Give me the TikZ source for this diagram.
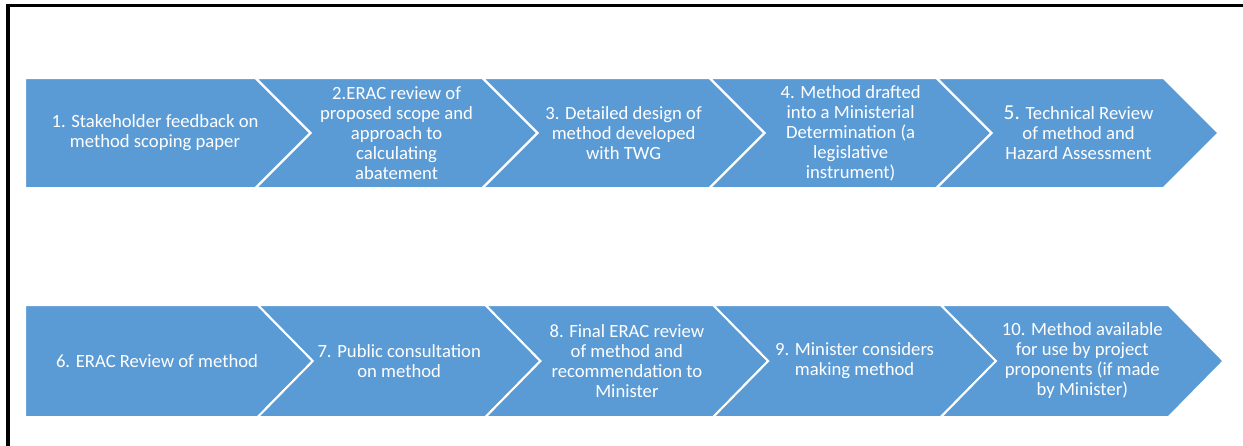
\documentclass[tikz,border=0pt]{standalone}
\usepackage{fontspec}
\setmainfont{Carlito}
\definecolor{stepblue}{HTML}{5B9BD5}
\tikzset{
  stepshape/.style={fill=stepblue,draw=white,line width=1.5pt,line join=miter},
  steptext/.style={text=white,align=center,font=\fontsize{14}{15}\selectfont}
}
\begin{document}
\begin{tikzpicture}[x=0.75pt,y=-0.75pt]
\useasboundingbox (0,0) rectangle (1243,446);

\draw[line width=2.5pt] (8,446) -- (8,5.5) -- (1243,5.5);

% first row
\path[stepshape] (25,78) -- (255.6,78) -- (310.6,133) -- (255.6,188) -- (25,188) -- cycle;
\foreach \k in {0,...,3}{
\pgfmathsetmacro\L{255.6+227*\k}
\path[stepshape] (\L,78) -- (\L+227,78) -- (\L+282,133) -- (\L+227,188) -- (\L,188) -- (\L+55,133) -- cycle;
}

\node[steptext] (s1) at (155,133) {1. Stakeholder feedback on\\method scoping paper};
\node[steptext] (s2) at (396.6,133) {2.ERAC review of\\proposed scope and\\approach to\\calculating\\abatement};
\node[steptext] (s3) at (623.6,133) {3. Detailed design of\\method developed\\with TWG};
\node[steptext] (s4) at (850.6,133) {4. Method drafted\\into a Ministerial\\Determination (a\\legislative\\instrument)};
\node[steptext] (s5) at (1078.6,133) {{\fontsize{16}{15}\selectfont 5.} Technical Review\\of method and\\Hazard Assessment};

% second row
\path[stepshape] (25,305) -- (257.8,305) -- (312.8,361) -- (257.8,417) -- (25,417) -- cycle;
\foreach \k in {0,...,3}{
\pgfmathsetmacro\L{257.8+227.7*\k}
\path[stepshape] (\L,305) -- (\L+227.7,305) -- (\L+282.7,361) -- (\L+227.7,417) -- (\L,417) -- (\L+55,361) -- cycle;
}

\node[steptext] (s6) at (157,361) {6. ERAC Review of method};
\node[steptext] (s7) at (399.2,361) {7. Public consultation\\on method};
\node[steptext] (s8) at (626.9,361) {8. Final ERAC review\\of method and\\recommendation to\\Minister};
\node[steptext] (s9) at (854.6,361) {9. Minister considers\\making method};
\node[steptext] (s10) at (1082.3,361) {10. Method available\\for use by project\\proponents (if made\\by Minister)};
\end{tikzpicture}
\end{document}
